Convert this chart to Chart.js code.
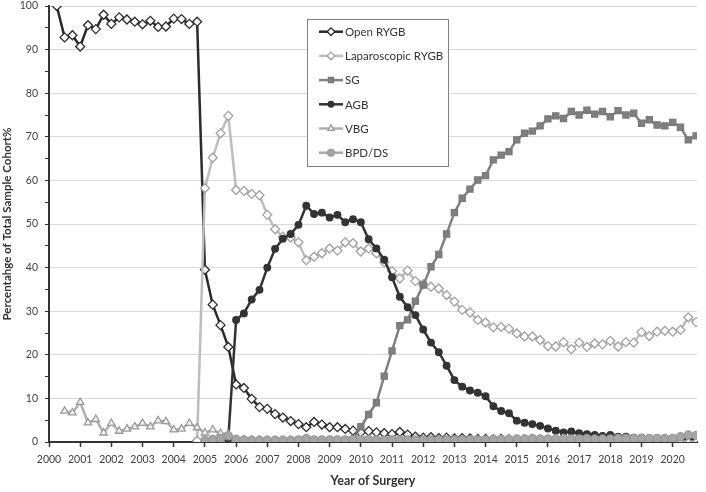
<!DOCTYPE html>
<html>
<head>
<meta charset="utf-8">
<script src="https://cdn.jsdelivr.net/npm/chart.js@4.4.0/dist/chart.umd.min.js"></script>
<style>
  html, body { margin: 0; padding: 0; background: #fff; }
</style>
</head>
<body>
<canvas id="surgeryChart" width="706" height="492"></canvas>
<script>
// years on the axis, one point per quarter from 2000.25 to 2020.75
const years = [2000, 2001, 2002, 2003, 2004, 2005, 2006, 2007, 2008, 2009, 2010,
               2011, 2012, 2013, 2014, 2015, 2016, 2017, 2018, 2019, 2020];
const periods = years.flatMap(y => [y, y + 0.25, y + 0.5, y + 0.75]).slice(1);

const openRYGB = [
  100, 92.8, 93.3, 90.7, 95.6, 94.7, 98.0, 95.9, 97.4, 96.9, 96.4, 95.8, 96.6, 95.2, 95.3, 97.1, 97.0, 95.9, 96.4,
  39.5, 31.5, 26.8, 21.8, 13.2, 12.4, 9.9, 8.0, 7.6, 6.4, 5.6, 4.8, 4.1, 3.4, 4.6, 4.0,
  3.4, 3.4, 3.0, 2.6, 2.2, 2.5, 2.2, 2.0, 1.8, 2.3, 1.7, 1.2,
  1.0, 1.1, 0.9, 1.0, 0.8, 0.9, 0.8, 0.7, 0.7, 0.6, 0.7, 0.6, 0.5, 0.6, 0.5, 0.5, 0.4, 0.5,
  0.4, 0.4, 0.4, 0.3, 0.4, 0.3, 0.3, 0.3, 0.3, 0.3, 0.2, 0.3, 0.2, 0.2, 0.2, 0.2, 0.2, 0.2
];
const lapRYGB = [
  null, null, null, null, null, null, null, null, null, null, null, null, null, null, null, null, null, null, 0.3,
  58.2, 65.2, 70.8, 74.8, 57.8, 57.6, 56.9, 56.6, 52.1, 48.8, 47.1, 46.9, 45.8, 41.7, 42.5, 43.3,
  44.4, 43.9, 45.8, 45.6, 43.7, 44.4, 43.3, 41.2, 39.2, 37.5, 39.3, 36.9,
  36.2, 35.6, 35.2, 33.7, 32.2, 30.3, 29.7, 28.0, 27.4, 26.3, 26.4, 26.0, 24.9, 24.2, 24.2, 23.4, 22.0, 21.9,
  22.9, 21.3, 22.8, 21.8, 22.6, 22.4, 23.2, 21.9, 22.9, 22.8, 25.2, 24.3, 25.3, 25.5, 25.3, 25.7, 28.6, 27.5
];
const sg = [
  null, null, null, null, null, null, null, null, null, null, null, null, null, null, null, null, null, null, null,
  0.1, 0.1, 0.1, 0.1, 0.1, 0.1, 0.1, 0.1, 0.1, 0.1, 0.1, 0.1, 0.1, 0.1, 0.1, 0.1,
  0.2, 0.2, 0.2, 0.3, 3.5, 6.3, 9.0, 15.1, 20.9, 26.7, 28.0, 32.3,
  36.0, 40.2, 43.0, 47.7, 52.6, 55.9, 58.0, 60.1, 61.1, 64.7, 65.8, 66.6, 69.3, 70.8, 71.3, 72.5, 74.1, 74.8,
  74.2, 75.8, 75.0, 76.1, 75.2, 75.8, 74.6, 76.0, 75.0, 75.4, 73.1, 73.9, 72.7, 72.5, 73.3, 72.2, 69.3, 70.2
];
const agb = [
  null, null, null, null, null, null, null, null, null, null, null, null, null, null, null, null, null, null, null,
  0.2, 0.3, 0.5, 0.8, 28.0, 29.5, 32.7, 34.9, 40.0, 44.3, 46.6, 47.7, 49.8, 54.2, 52.3, 52.6,
  51.5, 52.1, 50.4, 51.1, 50.4, 46.5, 44.4, 41.8, 37.8, 33.3, 30.9, 29.1,
  25.8, 22.8, 20.6, 17.5, 14.2, 12.7, 11.8, 11.3, 10.5, 8.2, 7.1, 6.6, 4.9, 4.4, 4.1, 3.7, 3.1, 2.6,
  2.2, 2.4, 2.0, 1.8, 1.6, 1.4, 1.6, 1.2, 1.2, 1.0, 1.0, 0.9, 0.9, 0.8, 0.8, 0.8, 0.7, 0.7
];
const vbg = [
  null, 7.1, 6.7, 9.1, 4.4, 5.2, 2.1, 4.3, 2.5, 3.0, 3.5, 4.3, 3.5, 4.9, 4.7, 2.8, 3.0, 4.3, 3.3,
  2.1, 2.8, 2.0, 1.8, 0.6, 0.5, 0.4, 0.4, 0.3, 0.3, 0.3, 0.3, 0.2, 0.2, 0.2, 0.2,
  0.2, 0.2, 0.2, 0.2, 0.1, 0.1, 0.1, 0.1, 0.1, 0.1, 0.1, 0.1,
  0.1, 0.1, 0.1, 0.1, 0.1, 0.1, 0.1, 0.1, 0.1, 0.1, 0.1, 0.1, 0.1, 0.1, 0.1, 0.1, 0.1, 0.1,
  0.1, 0.1, 0.1, 0.1, 0.1, 0.1, 0.1, 0.1, 0.1, 0.1, 0.1, 0.1, 0.1, 0.1, 0.1, 0.1, 0.1, 0.1
];
const bpdds = [
  null, null, null, null, null, null, null, null, null, null, null, null, null, null, null, null, null, null, null,
  0.4, 0.6, 0.8, 1.4, 0.6, 0.5, 0.4, 0.4, 0.4, 0.4, 0.4, 0.4, 0.5, 0.8, 0.5, 0.5,
  0.5, 0.5, 0.5, 0.6, 0.6, 0.6, 0.5, 0.5, 0.5, 0.5, 0.5, 0.5,
  0.5, 0.5, 0.5, 0.5, 0.5, 0.5, 0.5, 0.5, 0.5, 0.6, 0.6, 0.6, 0.7, 0.7, 0.8, 0.7, 0.7, 0.7,
  0.8, 0.7, 0.7, 0.8, 0.7, 0.7, 0.7, 0.8, 0.8, 0.8, 0.8, 0.8, 0.8, 0.8, 0.8, 1.2, 1.6, 1.5
];

const FONT = "Lato, 'Open Sans', sans-serif";

function series(label, data, line, fill, border, style, radius, order) {
  return {
    label: label,
    data: data,
    borderColor: line,
    borderWidth: 2.5,
    pointStyle: style,
    pointRadius: radius,
    pointBackgroundColor: fill,
    pointBorderColor: border,
    pointBorderWidth: 1.3,
    tension: 0,
    order: order,
  };
}

// legend drawn as a box inside the plot, like the original
const boxLegend = {
  id: "boxLegend",
  afterDraw(chart) {
    const ctx = chart.ctx;
    ctx.save();
    ctx.fillStyle = "#fff";
    ctx.fillRect(307.5, 19.5, 141, 147);
    ctx.strokeStyle = "#7f7f7f";
    ctx.lineWidth = 1;
    ctx.strokeRect(307.5, 19.5, 141, 147);
    chart.data.datasets.forEach((ds, i) => {
      const y = 31.7 + i * 24.2;
      ctx.strokeStyle = ds.borderColor;
      ctx.lineWidth = ds.borderWidth;
      ctx.beginPath();
      ctx.moveTo(319, y);
      ctx.lineTo(343, y);
      ctx.stroke();
      ctx.fillStyle = ds.pointBackgroundColor;
      ctx.strokeStyle = ds.pointBorderColor;
      ctx.lineWidth = ds.pointBorderWidth;
      Chart.helpers.drawPoint(ctx, {
        pointStyle: ds.pointStyle,
        radius: ds.pointRadius * 0.85,
        rotation: 0,
        borderWidth: ds.pointBorderWidth,
      }, 331, y);
      ctx.fillStyle = "#333";
      ctx.font = "11.5px " + FONT;
      ctx.textBaseline = "middle";
      ctx.textAlign = "left";
      ctx.fillText(ds.label, 345, y + 0.5);
    });
    ctx.restore();
  },
};

const ctx = document.getElementById("surgeryChart").getContext("2d");

new Chart(ctx, {
  type: "line",
  data: {
    labels: periods,
    datasets: [
      series("Open RYGB", openRYGB, "#2b2b2b", "#fff", "#2b2b2b", "rectRot", 4.5, 6),
      series("Laparoscopic RYGB", lapRYGB, "#bdbdbd", "#fff", "#a0a0a0", "rectRot", 4.5, 5),
      series("SG", sg, "#808080", "#7f7f7f", "#7a7a7a", "rect", 4.3, 4),
      series("AGB", agb, "#333333", "#333333", "#333333", "circle", 3.3, 3),
      series("VBG", vbg, "#b0b0b0", "#f2f2f2", "#999999", "triangle", 4.3, 2),
      series("BPD/DS", bpdds, "#a6a6a6", "#a6a6a6", "#999999", "circle", 4, 1),
    ],
  },
  options: {
    responsive: false,
    animation: false,
    layout: { padding: { top: 6, right: 9, left: 0, bottom: 0 } },
    plugins: {
      legend: { display: false },
      tooltip: { enabled: false },
    },
    scales: {
      x: {
        type: "linear",
        min: 2000,
        max: 2020.78,
        afterFit: (s) => { s.height = 50; },
        border: { color: "#333", width: 2 },
        grid: { drawOnChartArea: false, tickLength: 5, tickColor: "#333", tickWidth: 1.5 },
        ticks: {
          stepSize: 1,
          includeBounds: false,
          autoSkip: false,
          maxRotation: 0,
          padding: 6,
          color: "#404040",
          font: { family: FONT, size: 10.5 },
          callback: (v) => String(v),
        },
        title: {
          display: true,
          text: "Year of Surgery",
          color: "#333",
          font: { family: FONT, size: 12.5, weight: "bold" },
          padding: { top: 0, bottom: 4 },
        },
      },
      y: {
        min: 0,
        max: 100,
        afterFit: (s) => { s.width = 49; s.paddingTop = 0; s.paddingBottom = 0; },
        border: { color: "#333", width: 2 },
        grid: {
          tickLength: 4,
          tickColor: "#333",
          color: (c) => (c.tick.value % 10 === 0 && c.tick.value > 0 ? "#d9d9d9" : "transparent"),
          lineWidth: 1,
        },
        ticks: {
          stepSize: 5,
          padding: 7,
          color: "#404040",
          font: { family: FONT, size: 10.5 },
          callback: (v) => (v % 10 === 0 ? v : ""),
        },
        title: {
          display: true,
          text: "Percentahge of Total Sample Cohort%",
          color: "#333",
          font: { family: FONT, size: 11.5, weight: "bold" },
          padding: 0,
        },
      },
    },
  },
  plugins: [boxLegend],
});
</script>
</body>
</html>
